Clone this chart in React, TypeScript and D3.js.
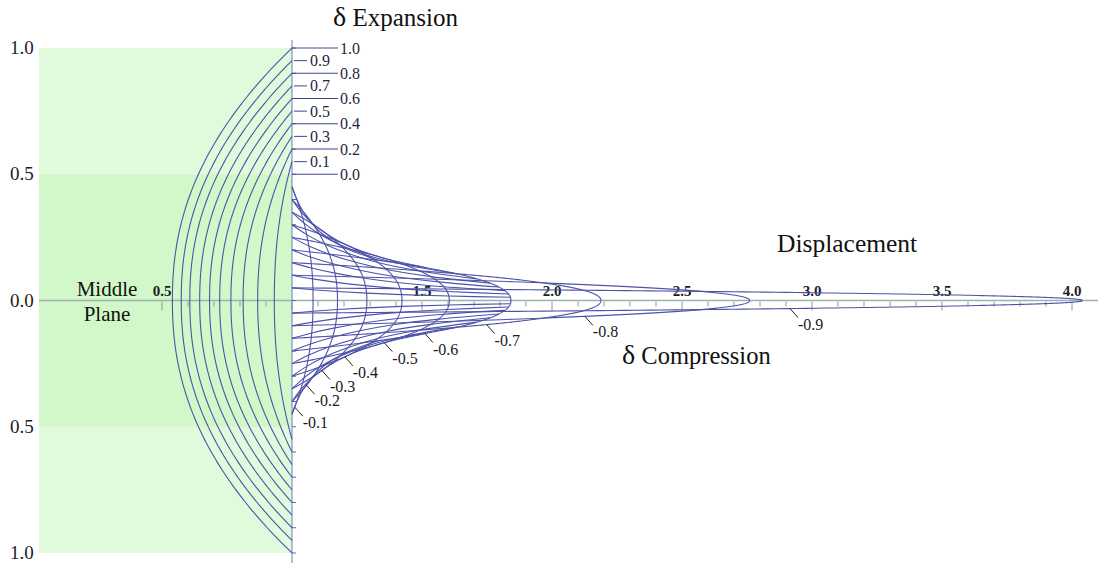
import React from "react";
import * as d3 from "d3";

// Relative thickness change of the layer for each traced material line
const expansionDeltas = [0.1, 0.2, 0.3, 0.4, 0.5, 0.6, 0.7, 0.8, 0.9, 1.0];
// Displacement of each expanded line where it crosses the middle plane
const expansionTips = [0.932, 0.868, 0.812, 0.765, 0.722, 0.683, 0.645, 0.607, 0.574, 0.54];

const compressionDeltas = [-0.1, -0.2, -0.3, -0.4, -0.5, -0.6, -0.7, -0.8, -0.9];
// Displacement of each compressed line at the middle plane
const compressionTips = [1.081, 1.175, 1.288, 1.423, 1.605, 1.842, 2.188, 2.76, 4.04];

// Starting heights of the particles whose paths are followed under compression
const particleStarts = [0.05, 0.1, 0.15, 0.2, 0.25, 0.3, 0.35, 0.4, 0.45];
// Compression stages the particle paths are traced through
const pathDeltas = [0, -0.1, -0.2, -0.3, -0.4, -0.5, -0.6];

const expansionLabels = ["1.0", "0.9", "0.8", "0.7", "0.6", "0.5", "0.4", "0.3", "0.2", "0.1", "0.0"];
const expansionLabelValues = [1.0, 0.9, 0.8, 0.7, 0.6, 0.5, 0.4, 0.3, 0.2, 0.1, 0.0];
const compressionLabels = ["-0.1", "-0.2", "-0.3", "-0.4", "-0.5", "-0.6", "-0.7", "-0.8", "-0.9"];

const displacementTicks = [0.5, 1.5, 2.0, 2.5, 3.0, 3.5, 4.0];
const heightTicks = [1.0, 0.5, 0.0, -0.5, -1.0];

// where along each compressed line (fraction of its reach) the label leader sits
const labelReach = [0.13, 0.32, 0.4, 0.48, 0.587, 0.607, 0.63, 0.64, 0.63];

const W = 1098;
const H = 569;
const SHAPE = 2.2;

const x = d3.scaleLinear().domain([0, 4]).range([32, 1072]);
const y = d3.scaleLinear().domain([-1, 1]).range([553, 48]);

const CURVE = "#4c53a8";
const SERIF = "Liberation Serif, Times New Roman, Times, serif";

// displacement of a material line at relative height eta (-1..1)
const profile = (tip: number, eta: number) => 1 + (tip - 1) * (1 - Math.pow(Math.abs(eta), SHAPE));

const tipFor = (delta: number) => {
  if (delta === 0) return 1;
  const i = compressionDeltas.findIndex((d) => Math.abs(d - delta) < 1e-9);
  return compressionTips[i];
};

const line = d3
  .line<[number, number]>()
  .x((d) => x(d[0]))
  .y((d) => y(d[1]));

const smooth = d3
  .line<[number, number]>()
  .x((d) => x(d[0]))
  .y((d) => y(d[1]))
  .curve(d3.curveCatmullRom.alpha(0.5));

const etas = d3.range(0, 201).map((i) => -1 + i / 100);

function materialLine(delta: number, tip: number): [number, number][] {
  const h = 0.5 * (1 + delta);
  return etas.map((e) => [profile(tip, e), h * e]);
}

// particle path: position on each compressed line for the same particle
function particlePath(y0: number): [number, number][] {
  const s = Math.sign(y0);
  const e0 = Math.abs(y0) / 0.5;
  const k = (e0 * e0) / (1 - e0 * e0);
  return pathDeltas.map((dl) => {
    const q = (1 + dl) * k;
    const eta = Math.sqrt(q / (1 + q));
    const h = 0.5 * (1 + dl);
    return [profile(tipFor(dl), eta), s * h * eta] as [number, number];
  });
}

const textStyle = { fontFamily: SERIF };

export default function App() {
  const x1 = x(1);
  const minor = d3.range(5, 41).map((i) => i / 10);
  const vTicks = d3.range(-10, 11).map((i) => i / 10);

  return (
    <svg
      width={W}
      height={H}
      viewBox={`0 0 ${W} ${H}`}
      style={{ position: "absolute", left: 0, top: 0, background: "#fff" }}
    >
      {/* shaded layer */}
      <rect x={39} y={y(1)} width={x1 - 39} height={y(-1) - y(1)} fill="#e1fadb" />
      <rect x={39} y={y(0.5)} width={x1 - 39} height={y(-0.5) - y(0.5)} fill="#d2f8ca" />

      {/* height labels */}
      {heightTicks.map((v, i) => (
        <text key={i} x={10} y={y(v) + 6} style={textStyle} fontSize={19} fill="#222">
          {Math.abs(v).toFixed(1)}
        </text>
      ))}

      {/* middle plane axis */}
      <line x1={39} x2={W} y1={y(0)} y2={y(0)} stroke="#9ab3ad" strokeWidth={1.6} />
      {minor.map((v, i) => {
        const major = Math.abs(v * 2 - Math.round(v * 2)) < 1e-6;
        return (
          <line
            key={i}
            x1={x(v)}
            x2={x(v)}
            y1={y(0) + 1}
            y2={y(0) + (major ? 10 : 6)}
            stroke="#8a9a9a"
            strokeWidth={1}
          />
        );
      })}
      {displacementTicks.map((v, i) => (
        <text
          key={i}
          x={x(v)}
          y={296}
          textAnchor="middle"
          style={textStyle}
          fontSize={15}
          fontWeight="bold"
          fill="#1c1c24"
        >
          {v.toFixed(1)}
        </text>
      ))}

      {/* vertical axis */}
      <line x1={x1} x2={x1} y1={40} y2={563} stroke="#7787c2" strokeWidth={1.1} />
      {vTicks.map((v, i) => (
        <line key={i} x1={x1} x2={x1 + 4} y1={y(v)} y2={y(v)} stroke="#5a68a8" strokeWidth={1} />
      ))}

      {/* expanded material lines */}
      {expansionDeltas.map((dl, i) => (
        <path
          key={"e" + i}
          d={line(materialLine(dl, expansionTips[i])) || ""}
          fill="none"
          stroke={CURVE}
          strokeWidth={1.1}
        />
      ))}

      {/* compressed material lines */}
      {compressionDeltas.map((dl, i) => (
        <path
          key={"c" + i}
          d={line(materialLine(dl, compressionTips[i])) || ""}
          fill="none"
          stroke={CURVE}
          strokeWidth={1.1}
        />
      ))}

      {/* particle paths */}
      {particleStarts.flatMap((p) => [p, -p]).map((p, i) => (
        <path key={"p" + i} d={smooth(particlePath(p)) || ""} fill="none" stroke={CURVE} strokeWidth={1.1} />
      ))}

      {/* expansion labels */}
      {expansionLabels.map((lab, i) => {
        const yy = y(0.5 + 0.5 * expansionLabelValues[i]);
        const long = i % 2 === 0;
        return (
          <g key={"el" + i}>
            <line
              x1={long ? x1 : x1 + 2}
              x2={long ? x1 + 46 : x1 + 15}
              y1={yy}
              y2={yy}
              stroke="#3d4a8c"
              strokeWidth={1}
            />
            <text x={long ? x1 + 48 : x1 + 18} y={yy + 5.5} style={textStyle} fontSize={16} fill="#1f2740">
              {lab}
            </text>
          </g>
        );
      })}

      {/* compression labels */}
      {compressionLabels.map((lab, i) => {
        const dl = compressionDeltas[i];
        const tip = compressionTips[i];
        const f = labelReach[i];
        const eta = Math.pow(1 - f, 1 / SHAPE);
        const px = x(1 + (tip - 1) * f);
        const py = y(-0.5 * (1 + dl) * eta);
        return (
          <g key={"cl" + i}>
            <line x1={px} y1={py} x2={px + 8} y2={py + 9} stroke="#222" strokeWidth={1} />
            <text x={px + 8} y={py + 21} style={textStyle} fontSize={16} fill="#1a1a22">
              {lab}
            </text>
          </g>
        );
      })}

      {/* titles */}
      <text x={333} y={26} style={textStyle} fontSize={25} fill="#111">
        <tspan fontSize={28}>δ</tspan> Expansion
      </text>
      <text x={777} y={252} style={textStyle} fontSize={25.5} fill="#111">
        Displacement
      </text>
      <text x={622} y={364} style={textStyle} fontSize={24.5} fill="#111">
        <tspan fontSize={28}>δ</tspan> Compression
      </text>
      <text x={107} y={296} textAnchor="middle" style={textStyle} fontSize={21} fill="#111">
        Middle
      </text>
      <text x={107} y={321} textAnchor="middle" style={textStyle} fontSize={21} fill="#111">
        Plane
      </text>
    </svg>
  );
}
